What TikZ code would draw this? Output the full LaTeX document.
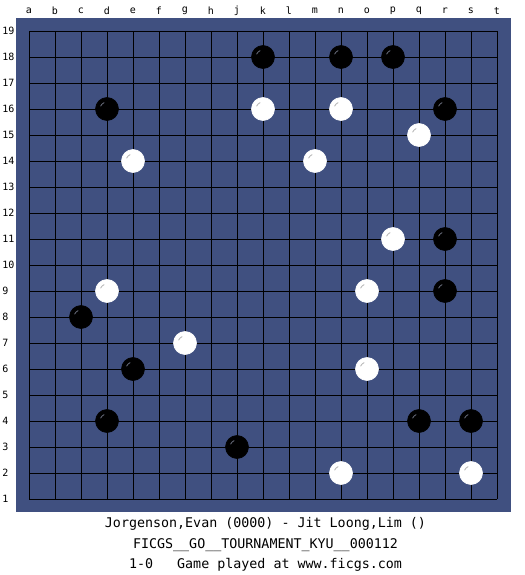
\documentclass[tikz,border=0pt]{standalone}
\usepackage{fontspec}
\setmonofont{DejaVu Sans Mono}
\usepackage{tikz}
\definecolor{boardblue}{RGB}{64,80,128}

\begin{document}
\begin{tikzpicture}[x=0.75pt, y=-0.75pt,
    label/.style={font=\ttfamily\fontsize{7.5}{9}\selectfont, inner sep=0pt},
    stone/.style={circle, minimum size=17.25pt, inner sep=0pt, line width=0.5pt},
    blackstone/.style={stone, fill=black, draw=black},
    whitestone/.style={stone, fill=white, draw=white},
    shine/.style={line width=0.6pt, line cap=round}]
    \useasboundingbox (0,0) rectangle (525,575);

    % board and grid
    \fill[boardblue] (16,18) rectangle (511,512);
    \foreach \i in {0,...,18} {
      \draw[line width=0.75pt] (29+26*\i, 31) -- (29+26*\i, 499);
      \draw[line width=0.75pt] (29, 31+26*\i) -- (497, 31+26*\i);
    }

    % coordinates
    \foreach \l [count=\i from 0] in {a,b,c,d,e,f,g,h,j,k,l,m,n,o,p,q,r,s,t}
      \node (col-\l) at (29+26*\i, 11) [label] {\l};
    \foreach \r in {1,...,19}
      \node (row-\r) at (2, {31+26*(19-\r)}) [label, anchor=west] {\r};

    % black stones
    \foreach \n/\c/\r in {k18/9/18, n18/12/18, p18/14/18, d16/3/16, r16/16/16,
        r11/16/11, r9/16/9, c8/2/8, e6/4/6, d4/3/4, q4/15/4, s4/17/4, j3/8/3} {
      \node (\n) at (29+26*\c, {31+26*(19-\r)}) [blackstone] {};
      \draw[shine, gray!70!boardblue] (\n.center) ++(205:7) arc[start angle=205, end angle=245, radius=7];
    }

    % white stones
    \foreach \n/\c/\r in {k16/9/16, n16/12/16, q15/15/15, e14/4/14, m14/11/14,
        p11/14/11, d9/3/9, o9/13/9, g7/6/7, o6/13/6, n2/12/2, s2/17/2} {
      \node (\n) at (29+26*\c, {31+26*(19-\r)}) [whitestone] {};
      \draw[shine, gray!60] (\n.center) ++(205:7) arc[start angle=205, end angle=245, radius=7];
    }

    % game info
    \node (players) at (265.5, 524) [font=\ttfamily\fontsize{10}{12}\selectfont, inner sep=0pt]
      {Jorgenson,Evan (0000) - Jit Loong,Lim ()};
    \node (event) at (265.5, 545) [font=\ttfamily\fontsize{10}{12}\selectfont, inner sep=0pt]
      {FICGS\_\_GO\_\_TOURNAMENT\_KYU\_\_000112};
    \node (result) at (265.5, 565) [font=\ttfamily\fontsize{10}{12}\selectfont, inner sep=0pt]
      {1-0\ \ \ Game played at www.ficgs.com};
\end{tikzpicture}
\end{document}
